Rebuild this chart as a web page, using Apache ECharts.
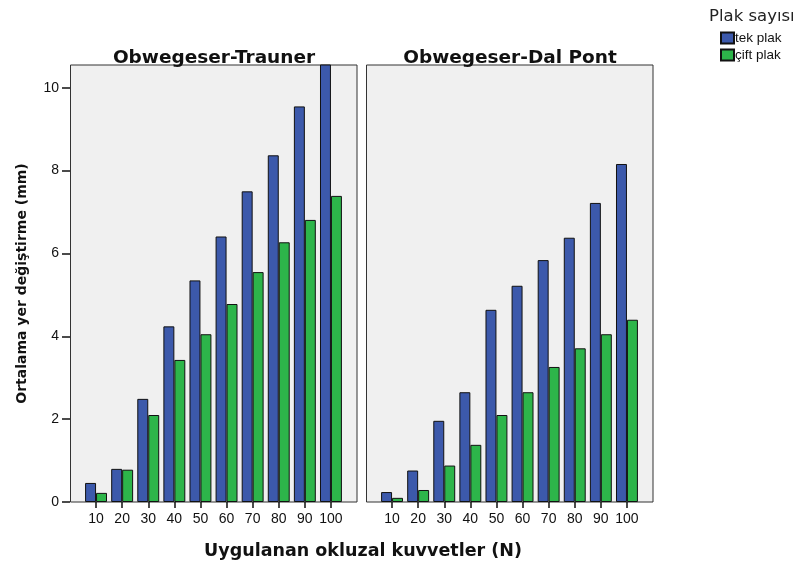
<!DOCTYPE html>
<html>
<head>
<meta charset="utf-8">
<script src="https://cdn.jsdelivr.net/npm/echarts@6/dist/echarts.min.js"></script>
<style>
  html, body { margin: 0; padding: 0; background: #fff; }
  #chart { width: 802px; height: 565px; }
</style>
</head>
<body>
<div id="chart"></div>
<script>
// kuvvet kategorileri (N)
const forces = ["10", "20", "30", "40", "50", "60", "70", "80", "90", "100"];
const yTicks = [0, 2, 4, 6, 8, 10];

// Obwegeser-Trauner
const trTek = [0.46, 0.80, 2.49, 4.24, 5.35, 6.41, 7.50, 8.37, 9.55, 10.6];
const trCift = [0.22, 0.78, 2.10, 3.43, 4.05, 4.78, 5.55, 6.27, 6.81, 7.39];

// Obwegeser-Dal Pont
const dpTek = [0.24, 0.76, 1.96, 2.65, 4.64, 5.22, 5.84, 6.38, 7.22, 8.16];
const dpCift = [0.10, 0.29, 0.88, 1.38, 2.10, 2.65, 3.26, 3.71, 4.05, 4.40];

const blue = "#3c59ab";
const green = "#2db54a";
const font = "DejaVu Sans";
const tickFont = "Liberation Sans";

const chart = echarts.init(document.getElementById("chart"));

function xAxisFor(gridIndex) {
  return {
    type: "category",
    gridIndex: gridIndex,
    data: forces,
    axisLine: { show: false },
    axisTick: { show: true, alignWithLabel: true, length: 6, lineStyle: { color: "#111", width: 1.5 } },
    axisLabel: { interval: 0, color: "#111", fontFamily: tickFont, fontSize: 14, margin: 10 },
  };
}

function yAxisFor(gridIndex, showLabels) {
  return {
    type: "value",
    gridIndex: gridIndex,
    offset: 13,
    min: 0,
    max: 10.55,
    interval: 2,
    splitLine: { show: false },
    axisLine: { show: false },
    axisTick: { show: showLabels, length: 8, customValues: yTicks, lineStyle: { color: "#111", width: 1.5 } },
    axisLabel: {
      show: showLabels,
      customValues: yTicks,
      color: "#111",
      fontFamily: tickFont,
      fontSize: 14,
      margin: 11,
    },
    name: showLabels ? "Ortalama yer değiştirme (mm)" : "",
    nameLocation: "middle",
    nameGap: 41,
    nameTextStyle: { fontFamily: font, fontWeight: "bold", fontSize: 14, color: "#111" },
  };
}

function barSeries(name, data, color, idx) {
  return {
    name: name,
    type: "bar",
    xAxisIndex: idx,
    yAxisIndex: idx,
    data: data,
    barGap: "0%",
    barCategoryGap: "16%",
    itemStyle: { color: color, borderColor: "#111", borderWidth: 1 },
  };
}

function panelFrame(x, w) {
  return {
    type: "rect",
    z: -10,
    shape: { x: x, y: 65, width: w, height: 437 },
    style: { fill: "#f0f0f0", stroke: "#333", lineWidth: 1 },
  };
}

const option = {
  backgroundColor: "#fff",
  animation: false,
  graphic: [panelFrame(70.5, 286.5), panelFrame(366.5, 286.5)],
  title: [
    {
      text: "Obwegeser-Trauner",
      left: 209, top: 44, textAlign: "center",
      textStyle: { fontFamily: font, fontWeight: "bold", fontSize: 18.5, color: "#111" },
    },
    {
      text: "Obwegeser-Dal Pont",
      left: 505, top: 44, textAlign: "center",
      textStyle: { fontFamily: font, fontWeight: "bold", fontSize: 18.5, color: "#111" },
    },
    {
      text: "Uygulanan okluzal kuvvetler (N)",
      left: 358, top: 537, textAlign: "center",
      textStyle: { fontFamily: font, fontWeight: "bold", fontSize: 17.5, color: "#111" },
    },
    {
      text: "Plak sayısı",
      left: 704, top: 3,
      textStyle: { fontFamily: font, fontWeight: "normal", fontSize: 16.5, color: "#222" },
    },
  ],
  legend: {
    orient: "vertical",
    left: 715, top: 26,
    itemWidth: 13, itemHeight: 11, itemGap: 3,
    icon: "rect",
    data: ["tek plak", "çift plak"],
    textStyle: { fontFamily: tickFont, fontSize: 13.5, color: "#111", padding: [0, 0, 0, -4] },
  },
  grid: [
    { left: 83, top: 65, width: 261, height: 437 },
    { left: 379, top: 65, width: 261, height: 437 },
  ],
  xAxis: [xAxisFor(0), xAxisFor(1)],
  yAxis: [yAxisFor(0, true), yAxisFor(1, false)],
  series: [
    barSeries("tek plak", trTek, blue, 0),
    barSeries("çift plak", trCift, green, 0),
    barSeries("tek plak", dpTek, blue, 1),
    barSeries("çift plak", dpCift, green, 1),
  ],
};

chart.setOption(option);
</script>
</body>
</html>
